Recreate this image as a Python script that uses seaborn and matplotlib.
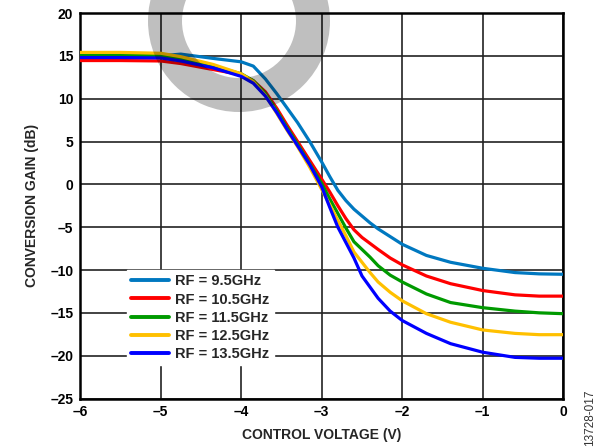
import numpy as np
import pandas as pd
import matplotlib
matplotlib.use("Agg")
import matplotlib.pyplot as plt
from matplotlib.patches import Wedge
import seaborn as sns

# ---- data ----
voltage = [-6, -5.5, -5.0, -4.75, -4.35, -4.0, -3.85, -3.7, -3.56, -3.43, -3.3, -3.15,
           -3.0, -2.9, -2.8, -2.7, -2.6, -2.5, -2.4, -2.3, -2.15, -2.0, -1.7, -1.4,
           -1.0, -0.6, -0.3, 0]
gain_9p5 = [14.85, 14.9, 15.0, 15.2, 14.7, 14.3, 13.8, 12.3, 10.6, 8.9, 7.2, 5.0,
            2.6, 0.9, -0.7, -1.9, -2.9, -3.7, -4.5, -5.2, -6.1, -7.0, -8.3, -9.1,
            -9.8, -10.3, -10.45, -10.5]
gain_10p5 = [14.45, 14.45, 14.4, 14.1, 13.4, 12.8, 12.1, 10.8, 8.9, 6.9, 5.0, 2.8,
             0.6, -0.9, -2.5, -4.0, -5.3, -6.2, -6.9, -7.6, -8.6, -9.4, -10.7, -11.6,
             -12.4, -12.9, -13.05, -13.05]
gain_11p5 = [15.1, 15.1, 15.0, 14.7, 13.8, 12.9, 12.1, 10.6, 8.6, 6.6, 4.7, 2.4,
             0.1, -1.7, -3.4, -5.1, -6.7, -7.6, -8.5, -9.5, -10.6, -11.4, -12.8, -13.8,
             -14.4, -14.8, -15.0, -15.1]
gain_12p5 = [15.4, 15.4, 15.3, 14.9, 14.0, 12.9, 12.0, 10.4, 8.3, 6.3, 4.4, 2.0,
             -0.6, -2.4, -4.2, -6.0, -7.9, -9.1, -10.3, -11.4, -12.6, -13.6, -15.1, -16.1,
             -17.0, -17.4, -17.55, -17.55]
gain_13p5 = [14.8, 14.8, 14.75, 14.4, 13.6, 12.6, 11.8, 10.3, 8.4, 6.4, 4.5, 2.3,
             -0.3, -2.7, -5.0, -6.8, -8.6, -10.7, -12.0, -13.3, -14.8, -15.9, -17.4, -18.6,
             -19.6, -20.2, -20.3, -20.3]
labels = ["RF = 9.5GHz", "RF = 10.5GHz", "RF = 11.5GHz", "RF = 12.5GHz", "RF = 13.5GHz"]
colors = ["#0078c0", "#ff0000", "#009a00", "#ffc000", "#0000ff"]
x_ticks = [-6, -5, -4, -3, -2, -1, 0]
y_ticks = [-25, -20, -15, -10, -5, 0, 5, 10, 15, 20]

series = [gain_9p5, gain_10p5, gain_11p5, gain_12p5, gain_13p5]
frames = []
for lab, g in zip(labels, series):
    frames.append(pd.DataFrame({"v": voltage, "g": g, "RF": lab}))
df = pd.concat(frames, ignore_index=True)

sns.set_theme(style="white")
plt.rcParams["font.family"] = ["Liberation Sans", "DejaVu Sans"]
plt.rcParams["font.weight"] = "bold"

fig = plt.figure(figsize=(6, 4.48), dpi=100)
ax = fig.add_axes([80.2 / 600, 1 - 398.5 / 448, (563.3 - 80.2) / 600, (398.5 - 13) / 448])

sns.lineplot(data=df, x="v", y="g", hue="RF", palette=colors, hue_order=labels,
             sort=False, linewidth=2.3, ax=ax, zorder=3)
for ln in ax.get_lines():
    ln.set_solid_joinstyle("round")
    ln.set_solid_capstyle("round")

ax.set_xlim(-6, 0)
ax.set_ylim(-25, 20)
ax.set_xticks(x_ticks)
ax.set_yticks(y_ticks)
fmt = lambda v: (("\u2013" + str(abs(v))) if v < 0 else str(v))
ax.set_xticklabels([fmt(v) for v in x_ticks], fontsize=10, fontweight="bold")
ax.set_yticklabels([fmt(v) for v in y_ticks], fontsize=10, fontweight="bold")
ax.tick_params(length=0, pad=5, colors="black")
ax.grid(True, color="#222222", linewidth=1.2)
for s in ax.spines.values():
    s.set_color("black")
    s.set_linewidth(1.8)
ax.set_xlabel("CONTROL VOLTAGE (V)", fontsize=10, fontweight="bold", labelpad=6)
ax.set_ylabel("CONVERSION GAIN (dB)", fontsize=10, fontweight="bold", labelpad=8)

leg = ax.legend(loc="upper left", bbox_to_anchor=(0.082, 0.352), frameon=True,
                fancybox=False, edgecolor="white", facecolor="white", framealpha=1,
                prop={"weight": "bold", "size": 10.5}, handlelength=2.6,
                handletextpad=0.4, labelspacing=0.28, borderpad=0.3)
for line in leg.get_lines():
    line.set_linewidth(2.8)
leg.set_zorder(5)

fig.text(0.983, 1 - 446 / 448, "13728-017", rotation=90, fontsize=8.5, fontweight="normal",
         ha="center", va="bottom", color="#333333")

# watermark ring overlay
ov = fig.add_axes([0, 0, 1, 1], zorder=10)
ov.set_xlim(0, 600)
ov.set_ylim(448, 0)
ov.axis("off")
ov.patch.set_alpha(0)
ov.add_patch(Wedge((239, 21), 91, 0, 360, width=34, facecolor="black", alpha=0.25, edgecolor="none"))

fig.savefig("out.png", dpi=100)
